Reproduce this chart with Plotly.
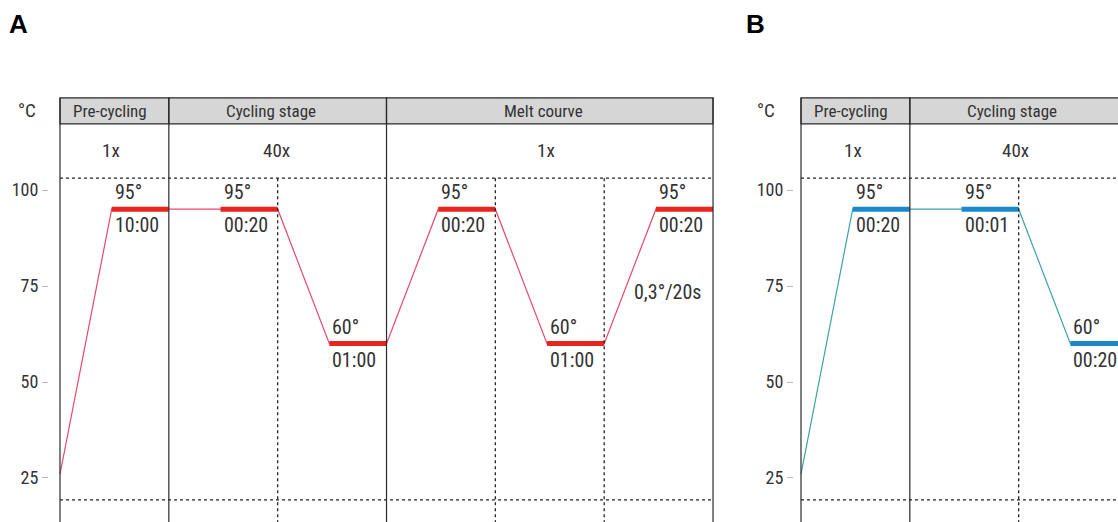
import plotly.graph_objects as go

# ---- protocol data -------------------------------------------------------
# time axis: each ramp spans 0.95 units, each hold 1.05 units
a_x = [0, 0.95, 2, 2.95, 4, 4.95, 6, 6.95, 8, 8.95, 10, 10.95, 12]
a_temp = [26, 95, 95, 95, 95, 60, 60, 95, 95, 60, 60, 95, 95]
a_holds = [(0.95, 2, 95, "95°", "10:00"),
           (2.95, 4, 95, "95°", "00:20"),
           (4.95, 6, 60, "60°", "01:00"),
           (6.95, 8, 95, "95°", "00:20"),
           (8.95, 10, 60, "60°", "01:00"),
           (10.95, 12, 95, "95°", "00:20")]
a_stages = [(0, 2, "Pre-cycling", "1x", 0.91, 0.93),
            (2, 6, "Cycling stage", "40x", 3.87, 3.97),
            (6, 12, "Melt courve", "1x", 8.89, 8.93)]
a_dotted = [4, 8, 10]
a_rate = (11.17, 73.4, "0,3°/20s")

b_x = [0, 0.95, 2, 2.95, 4, 4.95, 6]
b_temp = [26, 95, 95, 95, 95, 60, 60]
b_holds = [(0.95, 2, 95, "95°", "00:20"),
           (2.95, 4, 95, "95°", "00:01"),
           (4.95, 6, 60, "60°", "00:20")]
b_stages = [(0, 2, "Pre-cycling", "1x", 0.91, 0.95),
            (2, 6, "Cycling stage", "40x", 3.88, 3.95)]
b_dotted = [4]

y_ticks = [25, 50, 75, 100]

# ---- geometry ------------------------------------------------------------
W, H = 1118, 522
PX_PER_X = 54.42
TOP_GRID, BOT_GRID = 103.1, 19.3        # dotted reference lines
HEAD_TOP, HEAD_BOT = 124.0, 117.2       # stage header band
REP_Y = 110.2                           # repetition count row
Y_RANGE = [13.54, 149.48]

FONT = "Liberation Sans Narrow, Arial Narrow, Roboto Condensed, Liberation Sans, Arial, sans-serif"
INK = "#333333"

A_THIN, A_THICK = "#e5486a", "#e8241f"
B_THIN, B_THICK = "#3aa2a8", "#1c88cc"

fig = go.Figure()


def px_domain(x0_px, xr):
    lo = x0_px + xr[0] * PX_PER_X
    hi = x0_px + xr[1] * PX_PER_X
    return [max(lo / W, 0), min(hi / W, 1)]


a_range = [-0.1, 12.1]
b_range = [-0.1, (W - 801) / PX_PER_X]


def panel(xs, temps, holds, stages, dotted, xref, yref, thin, thick, x_end):
    # stage header band
    for (s0, s1, name, rep, hx, rx) in stages:
        fig.add_shape(type="rect", x0=s0, x1=s1, y0=HEAD_BOT, y1=HEAD_TOP,
                      xref=xref, yref=yref, fillcolor="#d6d6d6",
                      line=dict(color="#2a2a2a", width=1.2), layer="below")
        fig.add_annotation(x=hx, y=(HEAD_TOP + HEAD_BOT) / 2, xref=xref, yref=yref,
                           text=name, showarrow=False,
                           font=dict(family=FONT, size=17, color=INK))
        fig.add_annotation(x=rx, y=REP_Y, xref=xref, yref=yref, text=rep,
                           showarrow=False, font=dict(family=FONT, size=19, color=INK))
    # stage borders
    borders = sorted({s[0] for s in stages} | {s[1] for s in stages})
    for b in borders:
        fig.add_shape(type="line", x0=b, x1=b, y0=Y_RANGE[0] - 5, y1=HEAD_TOP,
                      xref=xref, yref=yref, line=dict(color="#2a2a2a", width=1.2))
    # dotted reference grid
    for yv in (TOP_GRID, BOT_GRID):
        fig.add_shape(type="line", x0=0, x1=x_end, y0=yv, y1=yv, xref=xref, yref=yref,
                      line=dict(color="#222222", width=1.3, dash="dot"))
    for xv in dotted:
        fig.add_shape(type="line", x0=xv, x1=xv, y0=Y_RANGE[0] - 5, y1=TOP_GRID,
                      xref=xref, yref=yref,
                      line=dict(color="#222222", width=1.3, dash="dot"))
    xa = "x" if xref == "x" else "x2"
    ya = "y" if yref == "y" else "y2"
    # temperature profile
    fig.add_trace(go.Scatter(x=xs, y=temps, mode="lines", xaxis=xa, yaxis=ya,
                             line=dict(color=thin, width=1.2), hoverinfo="skip",
                             showlegend=False))
    for (h0, h1, t, lab_t, lab_d) in holds:
        fig.add_trace(go.Scatter(x=[h0, h1], y=[t, t], mode="lines", xaxis=xa, yaxis=ya,
                                 line=dict(color=thick, width=5), hoverinfo="skip",
                                 showlegend=False))
        fig.add_annotation(x=h0, y=t, xref=xref, yref=yref, text=lab_t, showarrow=False,
                           xanchor="left", xshift=1, yshift=17,
                           font=dict(family=FONT, size=20, color=INK))
        fig.add_annotation(x=h0, y=t, xref=xref, yref=yref, text=lab_d, showarrow=False,
                           xanchor="left", xshift=1, yshift=-16,
                           font=dict(family=FONT, size=20, color=INK))


panel(a_x, a_temp, a_holds, a_stages, a_dotted, "x", "y", A_THIN, A_THICK, 12)
panel(b_x, b_temp, b_holds, b_stages, b_dotted, "x2", "y2", B_THIN, B_THICK, 12)

fig.add_annotation(x=a_rate[0], y=a_rate[1], xref="x", yref="y", text=a_rate[2],
                   showarrow=False, font=dict(family=FONT, size=20, color=INK))

# panel letters and unit labels
for px, letter in ((18, "A"), (755, "B")):
    fig.add_annotation(x=px / W, y=1 - 24 / H, xref="paper", yref="paper",
                       xanchor="center", yanchor="middle", text=f"<b>{letter}</b>",
                       showarrow=False,
                       font=dict(family="Liberation Sans, Arial", size=26, color="#000"))
for px in (27, 766):
    fig.add_annotation(x=px / W, y=1 - 110 / H, xref="paper", yref="paper",
                       xanchor="center", yanchor="middle", text="°C",
                       showarrow=False, font=dict(family=FONT, size=19, color=INK))

yaxis_common = dict(range=Y_RANGE, domain=[0, 1], tickvals=y_ticks, ticks="outside",
                    ticklen=6, tickcolor="#bbbbbb", tickwidth=1, showgrid=False,
                    zeroline=False, showline=False, anchor="free",
                    tickfont=dict(family=FONT, size=18, color=INK))

fig.update_layout(
    width=W, height=H, margin=dict(l=0, r=0, t=0, b=0),
    paper_bgcolor="white", plot_bgcolor="rgba(0,0,0,0)", showlegend=False,
    xaxis=dict(domain=px_domain(60, a_range), range=a_range, visible=False),
    xaxis2=dict(domain=px_domain(801, b_range), range=b_range, visible=False, anchor="y2"),
    yaxis=dict(position=48 / W, **yaxis_common),
    yaxis2=dict(position=793 / W, matches="y", **yaxis_common),
)

fig.write_html("out.html")
